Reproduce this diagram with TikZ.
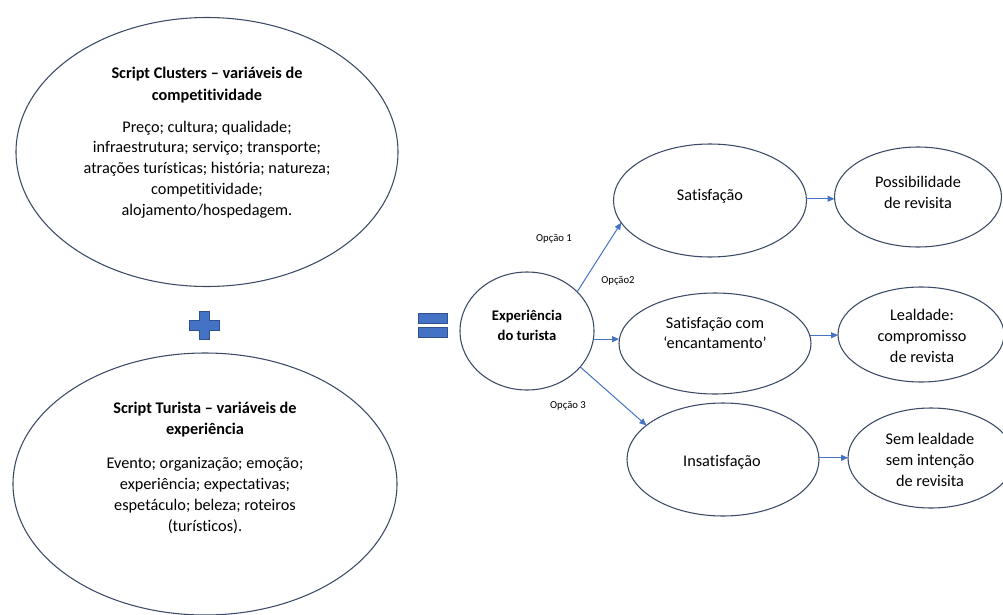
\documentclass[tikz,border=0pt]{standalone}
\usepackage{fontspec}
\setmainfont{Carlito}[Ligatures=NoCommon]
\usetikzlibrary{shapes.geometric,arrows.meta,calc}
\definecolor{outline}{HTML}{3B4A66}
\definecolor{accent}{HTML}{4472C4}
\definecolor{accentdark}{HTML}{2F528F}
\begin{document}
\begin{tikzpicture}[x=0.75pt,y=-0.75pt,
  oval/.style={ellipse, draw=outline, line width=0.8pt, inner sep=0pt, outer sep=0pt},
  body/.style={align=center, font=\fontsize{12.2}{15.6}\selectfont, inner sep=0pt},
  head/.style={align=center, font=\fontsize{12.2}{16.2}\selectfont\bfseries, inner sep=0pt},
  flow/.style={draw=accent, line width=0.75pt, -{Triangle[length=5.25pt,width=4.5pt]}},
  opt/.style={font=\fontsize{8}{9.6}\selectfont, inner sep=0pt},
  sign/.style={fill=accent, draw=accentdark, line width=0.5pt}]
\useasboundingbox (0,0) rectangle (1003,614);
\clip (0,0) rectangle (1003,614);

% left column: the two scripts
\node[oval, minimum width=286.5pt, minimum height=201.75pt] (clusters) at (207,152) {};
\node[head] (clustershead) at (207,85) {Script Clusters – variáveis de\\competitividade};
\node[body] (clustersbody) at (207,169.5) {Preço; cultura; qualidade;\\infraestrutura; serviço; transporte;\\atrações turísticas; história; natureza;\\competitividade;\\alojamento/hospedagem.};

\node[oval, minimum width=288pt, minimum height=196.5pt] (turista) at (205,484) {};
\node[head] (turistahead) at (205,419.5) {Script Turista – variáveis de\\experiência};
\node[body] (turistabody) at (205,495.5) {Evento; organização; emoção;\\experiência; expectativas;\\espetáculo; beleza; roteiros\\(turísticos).};

% plus and equals signs
\draw[sign] (199,311) -- (209,311) -- (209,320) -- (219,320) -- (219,330) -- (209,330)
  -- (209,339) -- (199,339) -- (199,330) -- (189,330) -- (189,320) -- (199,320) -- cycle;
\draw[sign] (418,313) rectangle (447,323);
\draw[sign] (418,327) rectangle (447,337);

% centre: the experience
\node[oval, minimum width=100.5pt, minimum height=88.5pt] (exp) at (527,331) {};
\node[align=center, font=\fontsize{11}{15}\selectfont\bfseries, inner sep=0pt] (exptext) at (527,325) {Experiência\\do turista};

% outcomes
\node[oval, minimum width=144.75pt, minimum height=84.75pt] (sat) at (710,200.5) {};
\node[body] (sattext) at (710,196) {Satisfação};
\node[oval, minimum width=144pt, minimum height=75.75pt] (sc) at (715,343.5) {};
\node[body] (sctext) at (715,333) {Satisfação com\\‘encantamento’};
\node[oval, minimum width=144pt, minimum height=84.75pt] (ins) at (723,459.5) {};
\node[body] (instext) at (722,462) {Insatisfação};

% consequences
\node[oval, minimum width=125.25pt, minimum height=75pt] (pos) at (918,197) {};
\node[body] (postext) at (918,192.5) {Possibilidade\\de revisita};
\node[oval, minimum width=124.5pt, minimum height=71.25pt] (leal) at (921,334.5) {};
\node[body] (lealtext) at (922,336) {Lealdade:\\compromisso\\de revista};
\node[oval, minimum width=124.5pt, minimum height=75pt] (sem) at (931,458) {};
\node[body] (semtext) at (930,460) {Sem lealdade\\sem intenção\\de revisita};

% connectors
\draw[flow] (exp.38) -- (sat.194);
\draw[flow] (exp.-7) -- (exp.-7 -| sc.west);
\draw[flow] (exp.-34) -- (ins.156);
\draw[flow] (sat.1.5) -- (sat.1.5 -| pos.west);
\draw[flow] (sc.5) -- (sc.5 -| leal.west);
\draw[flow] (ins.1) -- (ins.1 -| sem.west);

\node[opt] (opt1) at (554,239) {Opção 1};
\node[opt] (opt2) at (618,281) {Opção2};
\node[opt] (opt3) at (568,406) {Opção 3};
\end{tikzpicture}
\end{document}
